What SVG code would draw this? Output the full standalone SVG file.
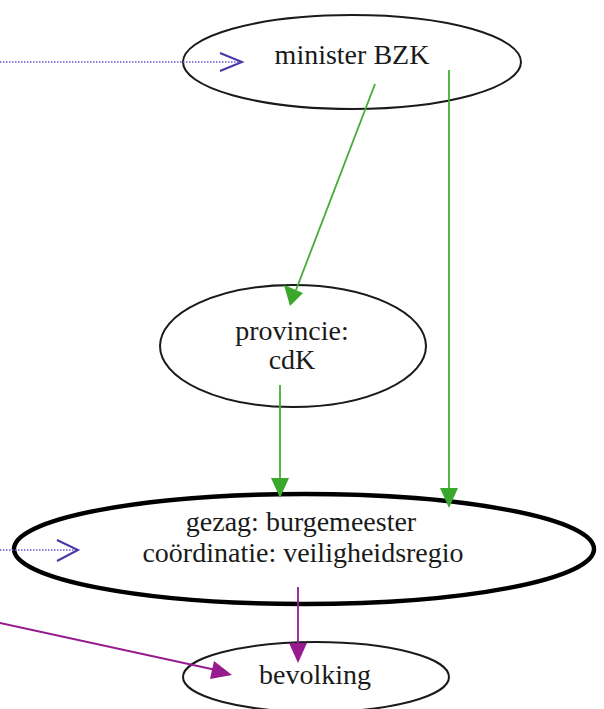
<svg xmlns="http://www.w3.org/2000/svg" width="604" height="709" viewBox="0 0 604 709">
<defs>
<style>
.node{fill:#fff;stroke:#1a1a1a;stroke-width:2}
.thick{stroke:#000;stroke-width:4.5}
.t{font-family:"Liberation Serif","Times New Roman",serif;font-size:28px;fill:#1a1a1a;text-anchor:middle}
.g{stroke:#44ad35;stroke-width:1.8;fill:none}
.p{stroke:#961b8e;stroke-width:1.8;fill:none}
.b{stroke:#6a5bc4;stroke-width:1.5;stroke-dasharray:1.5 1.5;fill:none}
.bh{stroke:#4a35a8;stroke-width:2;fill:none}
.hg{fill:#3aa82c}
.hp{fill:#961b8e}
</style>
</defs>
<g id="n_minister"><ellipse class="node" cx="352" cy="62" rx="169" ry="47"/><text class="t" x="352" y="64">minister BZK</text></g>
<g id="n_provincie"><ellipse class="node" cx="293" cy="346" rx="133" ry="61"/><text class="t" x="292" y="340">provincie:</text><text class="t" x="292" y="369">cdK</text></g>
<g id="n_gezag"><ellipse class="node thick" cx="304" cy="549" rx="290" ry="55"/><text class="t" x="301" y="531">gezag: burgemeester</text><text class="t" x="303" y="562">coördinatie: veiligheidsregio</text></g>
<g id="n_bevolking"><ellipse class="node" cx="316" cy="677" rx="133" ry="35"/><text class="t" x="315" y="684">bevolking</text></g>
<g id="connectors">
<path class="b" d="M0,62 H240"/><path class="bh" d="M220,53 L242,62 L220,71"/>
<path class="b" d="M0,550 H77"/><path class="bh" d="M57,540 L78,550 L57,561"/>
<path class="g" d="M375,84 L296,290"/>
<path class="hg" d="M284,285 L303,293 L290,306 Z"/>
<path class="g" d="M449,70 V492"/><path class="hg" d="M440,488 L458,488 L449,508 Z"/>
<path class="g" d="M280,385 V482"/><path class="hg" d="M271,478 L289,478 L280,498 Z"/>
<path class="p" d="M298,587 V646"/><path class="hp" d="M289,643 L307,643 L298,663 Z"/>
<path class="p" d="M0,623 L216,670"/><path class="hp" d="M214,661 L232,675 L210,679 Z"/>
</g>
</svg>
